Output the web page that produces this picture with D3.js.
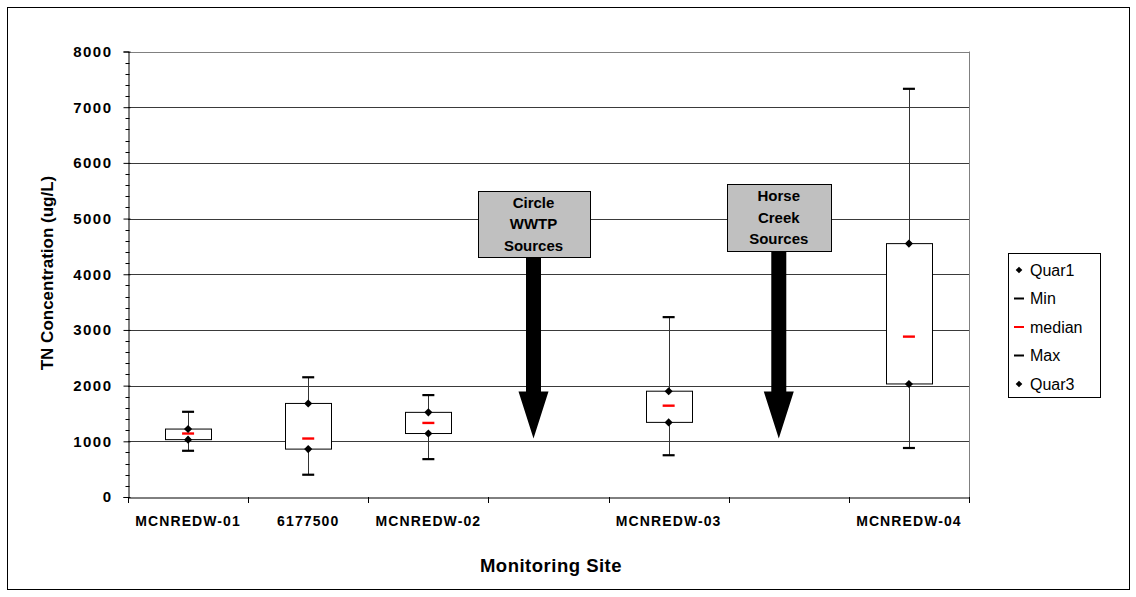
<!DOCTYPE html>
<html><head><meta charset="utf-8">
<script src="https://cdn.jsdelivr.net/npm/d3@7"></script>
<style>
html,body{margin:0;padding:0;background:#fff;}
text{font-family:Arial,"Liberation Sans",sans-serif;}
</style></head>
<body>
<svg id="chart" width="1136" height="597"></svg>
<script>
// ---- data ----
const sites = ["MCNREDW-01","6177500","MCNREDW-02","","MCNREDW-03","","MCNREDW-04"];
const minVals    = [830, 400, 680, null, 750, null, 880];
const quar1Vals  = [1030, 860, 1140, null, 1340, null, 2030];
const medianVals = [1140, 1050, 1330, null, 1640, null, 2880];
const quar3Vals  = [1220, 1680, 1520, null, 1900, null, 4550];
const maxVals    = [1530, 2150, 1830, null, 3230, null, 7330];
const yTicks = [0,1000,2000,3000,4000,5000,6000,7000,8000];
const legendLabels = ["Quar1","Min","median","Max","Quar3"];
const annotations = [
  {slot:3, lines:["Circle","WWTP","Sources"], top:5500, tip:1050},
  {slot:5, lines:["Horse","Creek","Sources"], top:5620, tip:1050}
];
const xTitle = "Monitoring Site";
const yTitle = "TN Concentration (ug/L)";

// ---- layout ----
const svg = d3.select("#chart");
const plot = {left:128, right:969, top:51.5, bottom:497};
const FONT = "Arial, 'Liberation Sans', sans-serif";

svg.append("rect").attr("x",7.5).attr("y",7.5).attr("width",1122).attr("height",582)
  .attr("fill","#fff").attr("stroke","#000").attr("stroke-width",1);

const x = d3.scaleBand().domain(d3.range(sites.length)).range([plot.left, plot.right]).padding(0);
const y = d3.scaleLinear().domain([0,8000]).range([plot.bottom, plot.top]);

// gridlines
svg.append("g").selectAll("line").data(yTicks.filter(d=>d>0)).join("line")
  .attr("x1",plot.left).attr("x2",plot.right)
  .attr("y1",d=>Math.round(y(d))+0.5).attr("y2",d=>Math.round(y(d))+0.5)
  .attr("stroke",d=>d===8000?"#808080":"#3a3a3a").attr("stroke-width",1);
svg.append("line").attr("x1",plot.right+0.5).attr("x2",plot.right+0.5)
  .attr("y1",plot.top).attr("y2",plot.bottom).attr("stroke","#808080");

// y axis
const yAxis = d3.axisLeft(y).tickValues(yTicks).tickSize(5).tickPadding(11).tickFormat(d3.format("d"));
const yg = svg.append("g").attr("transform",`translate(${plot.left+0.5},0)`).call(yAxis);
yg.select(".domain").attr("stroke","#000");
yg.selectAll(".tick line").attr("stroke","#000").attr("x2",-5).attr("x1",2);
yg.selectAll(".tick text").attr("font-size",15).attr("font-weight","bold")
  .attr("fill","#000").style("letter-spacing","1.5px").attr("font-family",FONT);
const minor = d3.range(0,8001,200).filter(v=>v%1000!==0);
svg.append("g").selectAll("line").data(minor).join("line")
  .attr("x1",plot.left-2.5).attr("x2",plot.left+1.5)
  .attr("y1",d=>Math.round(y(d))+0.5).attr("y2",d=>Math.round(y(d))+0.5)
  .attr("stroke","#000");

// x axis
const xAxis = d3.axisBottom(x).tickSize(0).tickFormat(i=>sites[i]).tickPadding(19);
const xg = svg.append("g").attr("transform",`translate(0,${plot.bottom+0.5})`).call(xAxis);
xg.select(".domain").attr("stroke","#000");
xg.selectAll(".tick text").attr("font-size",14).attr("font-weight","bold")
  .attr("fill","#000").style("letter-spacing","1.1px").attr("font-family",FONT);
const bounds = d3.range(sites.length+1).map(i=> i<sites.length ? x(i) : x(sites.length-1)+x.bandwidth());
svg.append("g").selectAll("line").data(bounds).join("line")
  .attr("x1",d=>Math.round(d)+0.5).attr("x2",d=>Math.round(d)+0.5)
  .attr("y1",plot.bottom).attr("y2",plot.bottom+6).attr("stroke","#000");

// titles
svg.append("text").attr("x",551).attr("y",572).attr("text-anchor","middle")
  .attr("font-size",18.5).attr("font-weight","bold").style("letter-spacing","0.5px").text(xTitle);
svg.append("text").attr("transform","translate(53,273) rotate(-90)").attr("text-anchor","middle")
  .attr("font-size",17).attr("font-weight","bold").text(yTitle);

// boxes
const idx = d3.range(sites.length).filter(i=>minVals[i]!==null);
const cx = i => x(i) + x.bandwidth()/2;
const boxW = 46, capW = 12;
const g = svg.append("g");
g.selectAll(".wh").data(idx).join("line")
  .attr("x1",i=>Math.round(cx(i))+0.5).attr("x2",i=>Math.round(cx(i))+0.5)
  .attr("y1",i=>y(minVals[i])).attr("y2",i=>y(maxVals[i]))
  .attr("stroke","#333").attr("stroke-width",1);
g.selectAll(".bx").data(idx).join("rect")
  .attr("x",i=>Math.round(cx(i)-boxW/2)+0.5).attr("width",boxW)
  .attr("y",i=>y(quar3Vals[i])).attr("height",i=>y(quar1Vals[i])-y(quar3Vals[i]))
  .attr("fill","#fff").attr("stroke","#000").attr("stroke-width",1);
[minVals,maxVals].forEach(arr=>{
  g.selectAll(null).data(idx).join("line")
    .attr("x1",i=>cx(i)-capW/2).attr("x2",i=>cx(i)+capW/2)
    .attr("y1",i=>y(arr[i])).attr("y2",i=>y(arr[i]))
    .attr("stroke","#000").attr("stroke-width",2.2);
});
g.selectAll(".md").data(idx).join("line")
  .attr("x1",i=>cx(i)-6).attr("x2",i=>cx(i)+6)
  .attr("y1",i=>y(medianVals[i])).attr("y2",i=>y(medianVals[i]))
  .attr("stroke","#ff0000").attr("stroke-width",2.4);
const diamond = d3.symbol().type(d3.symbolDiamond2).size(42);
[quar1Vals,quar3Vals].forEach(arr=>{
  g.selectAll(null).data(idx).join("path")
    .attr("d",diamond).attr("transform",i=>`translate(${cx(i)},${y(arr[i])})`)
    .attr("fill","#000");
});

// annotations
const offsets = [{dx:-15, bw:112, bh:66}, {dx:-10, bw:104, bh:67}];
annotations.forEach((a,k)=>{
  const o = offsets[k];
  const ax = cx(a.slot) + o.dx;
  const boxTop = y(a.top);
  const boxBot = boxTop + o.bh;
  const tipY = y(a.tip);
  const headTop = tipY - 47;
  svg.append("path")
    .attr("d",`M${ax-7.5},${boxBot+1}L${ax+7.5},${boxBot+1}L${ax+7.5},${headTop}L${ax+15},${headTop}L${ax},${tipY}L${ax-15},${headTop}L${ax-7.5},${headTop}Z`)
    .attr("fill","#000");
  svg.append("rect").attr("x",Math.round(ax-o.bw/2)+0.5).attr("y",Math.round(boxTop)+0.5)
    .attr("width",o.bw).attr("height",o.bh)
    .attr("fill","#c0c0c0").attr("stroke","#000").attr("stroke-width",1);
  a.lines.forEach((t,j)=>{
    svg.append("text").attr("x",ax).attr("y",boxTop+17+j*21.5)
      .attr("text-anchor","middle").attr("font-size",15).attr("font-weight","bold")
      .attr("fill","#000").text(t);
  });
});

// legend
const lg = svg.append("g");
const lx = 1008, ly = 253, lw = 92, lh = 144;
lg.append("rect").attr("x",lx+0.5).attr("y",ly+0.5).attr("width",lw).attr("height",lh)
  .attr("fill","#fff").attr("stroke","#000");
legendLabels.forEach((lab,i)=>{
  const yy = ly + 17 + i*28.5;
  const sx = lx + 11;
  if (lab==="Quar1"||lab==="Quar3") {
    lg.append("path").attr("d",d3.symbol().type(d3.symbolDiamond2).size(28))
      .attr("transform",`translate(${sx},${yy})`).attr("fill","#000");
  } else {
    lg.append("line").attr("x1",sx-5).attr("x2",sx+5).attr("y1",yy).attr("y2",yy)
      .attr("stroke",lab==="median"?"#ff0000":"#000").attr("stroke-width",2);
  }
  lg.append("text").attr("x",sx+11).attr("y",yy+5.5).attr("font-size",16).attr("fill","#000").text(lab);
});
</script>
</body></html>
